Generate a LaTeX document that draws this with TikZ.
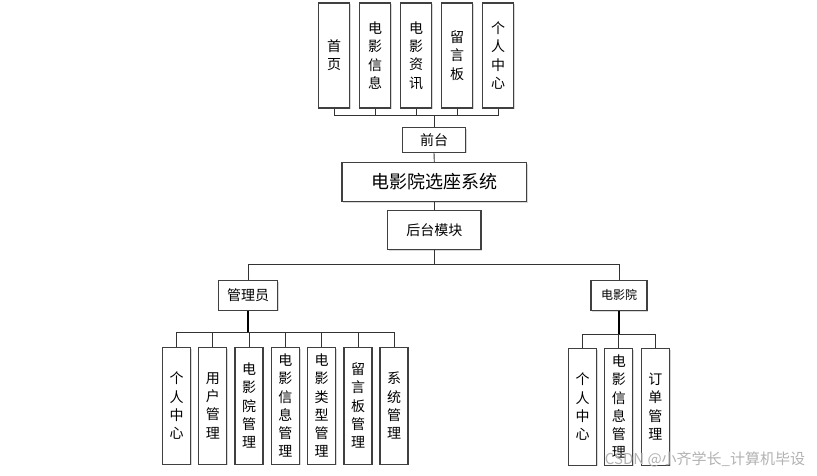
\documentclass[tikz,border=0pt]{standalone}
\usepackage{fontspec}
\setmainfont{Noto Sans CJK SC}
\usetikzlibrary{shadows}
\begin{document}
\begin{tikzpicture}[x=1pt,y=-1pt,
  box/.style={draw=black!75, line width=1.1pt, fill=white, inner sep=0pt, align=center,
    drop shadow={shadow xshift=1.2pt, shadow yshift=-1.2pt, fill=black!25, opacity=0.6},
    font=\fontsize{14}{18.3}\selectfont},
  tall/.style={box, minimum width=31.5pt, minimum height=105pt},
  leaf/.style={box, minimum width=28pt, minimum height=116.7pt},
  link/.style={draw=black!80, line width=0.9pt},
  thick link/.style={draw=black, line width=2pt}]
\useasboundingbox (0,0) rectangle (817,475);
\fill[white] (0,0) rectangle (817,475);

% top level
\node[tall] (t1) at (334,55.5) {首\\页};
\node[tall] (t2) at (375,55.5) {电\\影\\信\\息};
\node[tall] (t3) at (416,55.5) {电\\影\\资\\讯};
\node[tall] (t4) at (457,55.5) {留\\言\\板};
\node[tall] (t5) at (498,55.5) {个\\人\\中\\心};
\coordinate (bT) at (434,115.7);

\node[box, minimum width=63pt, minimum height=24.5pt] (ft) at (434,140) {前台};
\node[box, minimum width=184.7pt, minimum height=39pt, font=\fontsize{18}{20}\selectfont] (sys) at (434.3,182) {电影院选座系统};
\node[box, minimum width=93.3pt, minimum height=38.6pt] (bk) at (434.3,230) {后台模块};
\coordinate (bB) at (434.3,264.3);

\node[box, minimum width=59pt, minimum height=29.7pt] (adm) at (248.2,295.2) {管理员};
\node[box, minimum width=56pt, minimum height=30pt, font=\fontsize{12}{14}\selectfont] (cin) at (619,295.3) {电影院};

% admin children
\node[leaf] (a1) at (176.7,405.7) {个\\人\\中\\心};
\node[leaf] (a2) at (212.8,405.7) {用\\户\\管\\理};
\node[leaf] (a3) at (249,405.7) {电\\影\\院\\管\\理};
\node[leaf] (a4) at (285.3,405.7) {电\\影\\信\\息\\管\\理};
\node[leaf] (a5) at (321.7,405.7) {电\\影\\类\\型\\管\\理};
\node[leaf] (a6) at (358,405.7) {留\\言\\板\\管\\理};
\node[leaf] (a7) at (394,405.7) {系\\统\\管\\理};
\coordinate (bA) at (248.2,332.3);

% cinema children
\node[leaf] (c1) at (582.5,406.7) {个\\人\\中\\心};
\node[leaf] (c2) at (618.8,406.7) {电\\影\\信\\息\\管\\理};
\node[leaf] (c3) at (655.3,406.7) {订\\单\\管\\理};
\coordinate (bC) at (619,334);

% connectors top
\foreach \n in {t1,t2,t3,t4,t5} \draw[link] (\n.south) |- (bT);
\draw[link] (bT) -- (ft.north);
\draw[link] (ft.south) -- (sys.north);
\draw[link] (sys.south) -- (bk.north);
\draw[link] (bk.south) -- (bB);
\draw[link] (bB) -| (adm.north);
\draw[link] (bB) -| (cin.north);

% admin connectors
\draw[thick link] (adm.south) -- (bA);
\foreach \n in {a1,a2,a3,a4,a5,a6,a7} \draw[link] (\n.north) |- (bA);

% cinema connectors
\draw[thick link] (cin.south) -- (bC);
\foreach \n in {c1,c2,c3} \draw[link] (\n.north) |- (bC);

% watermark
\node[text=black!30, font=\fontsize{15}{17}\selectfont, inner sep=0pt] (wm) at (705,459) {CSDN @小齐学长\_计算机毕设};
\end{tikzpicture}
\end{document}
